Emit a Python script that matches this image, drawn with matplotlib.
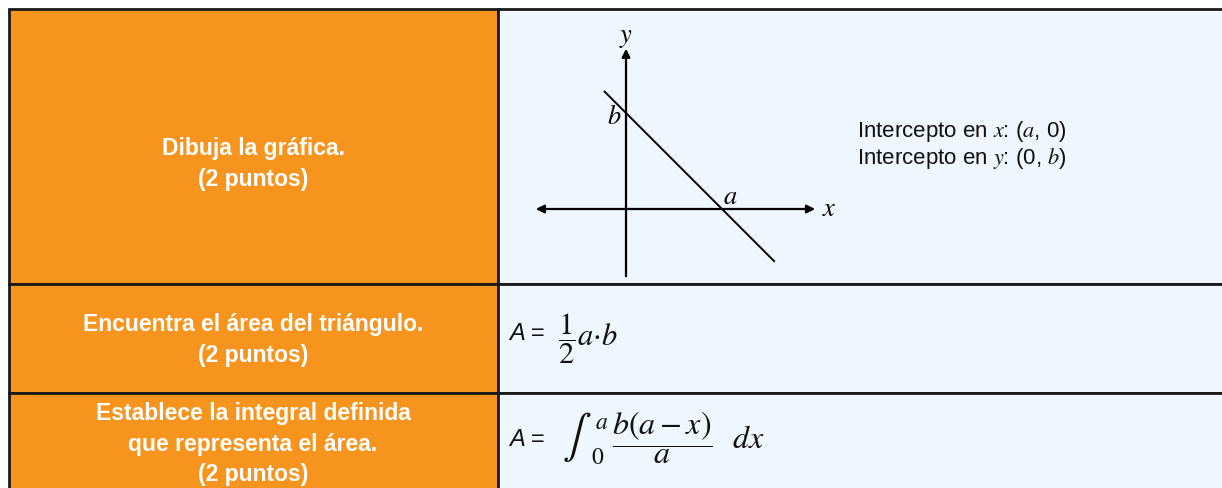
import matplotlib
matplotlib.use("Agg")
import matplotlib.pyplot as plt
from matplotlib.patches import Rectangle
from matplotlib import font_manager

plt.rcParams['mathtext.fontset'] = 'stix'

# ---- data ----
row_labels = ["Dibuja la gráfica.\n(2 puntos)",
              "Encuentra el área del triángulo.\n(2 puntos)",
              "Establece la integral definida\nque representa el área.\n(2 puntos)"]
intercept_lines = ["Intercepto en $x$: ($a$, 0)", "Intercepto en $y$: (0, $b$)"]
area_formula = r"$\dfrac{1}{2}a{\cdot}b$"
integral_sign = r"$\int$"
integral_upper = r"$a$"
integral_lower = r"$0$"
integrand = r"$\dfrac{b(a-x)}{a}$"
differential = r"$dx$"
x_intercept = 1.0   # a
y_intercept = 1.0   # b
line_x = [-0.23, 1.55]
x_axis_range = [-0.94, 1.97]
y_axis_range = [-0.70, 1.67]

ORANGE = '#F7941D'
BLUE = '#EFF6FD'
EDGE = '#1a1a1a'
INK = '#111111'

names = {f.name for f in font_manager.fontManager.ttflist}
NARROW = 'Liberation Sans Narrow' if 'Liberation Sans Narrow' in names else 'Liberation Sans'
narrow_avail = NARROW == 'Liberation Sans Narrow'

W, H = 1222, 488
fig = plt.figure(figsize=(W/100, H/100), dpi=100)
fig.patch.set_facecolor('white')
ax = fig.add_axes([0, 0, 1, 1])
ax.set_xlim(0, W)
ax.set_ylim(H, 0)
ax.axis('off')

col_x = [9, 498, 1240]
row_y = [9, 284, 393, 510]
for i in range(3):
    ax.add_patch(Rectangle((col_x[0], row_y[i]), col_x[1]-col_x[0], row_y[i+1]-row_y[i],
                           facecolor=ORANGE, edgecolor=EDGE, lw=2.0, zorder=1))
    ax.add_patch(Rectangle((col_x[1], row_y[i]), col_x[2]-col_x[1], row_y[i+1]-row_y[i],
                           facecolor=BLUE, edgecolor=EDGE, lw=2.0, zorder=1))

lab_fs = 18 if narrow_avail else 16.5
lab_ls = 1.2 * 18 / lab_fs * 30 / 28
label_centers = [164, 340, 444]
for lab, yc in zip(row_labels, label_centers):
    ax.text(253, yc, lab, ha='center', va='center', color='white', fontsize=lab_fs,
            fontweight='bold', family=NARROW, linespacing=lab_ls, zorder=3)

# intercept text
int_fs = 17 if narrow_avail else 16
ax.text(857, 145, "\n".join(intercept_lines), ha='left', va='center', fontsize=int_fs,
        family=NARROW, linespacing=1.12, color=INK, zorder=3)

# formulas
ax.text(509, 334, "A =", ha='left', va='center', fontsize=17, family=NARROW,
        style='italic', color=INK, zorder=3)
ax.text(558, 339, area_formula, ha='left', va='center', fontsize=22, color=INK, zorder=3)

ax.text(509, 439, "A =", ha='left', va='center', fontsize=17, family=NARROW,
        style='italic', color=INK, zorder=3)
ax.text(577, 437, integral_sign, ha='center', va='center', fontsize=31, color=INK, zorder=3)
ax.text(602, 422, integral_upper, ha='center', va='center', fontsize=17, color=INK, zorder=3)
ax.text(598, 457, integral_lower, ha='center', va='center', fontsize=17, color=INK, zorder=3)
ax.text(612, 438, integrand, ha='left', va='center', fontsize=23, color=INK, zorder=3)
ax.text(732, 439, differential, ha='left', va='center', fontsize=23, color=INK, zorder=3)

# ---- graph inset ----
px_per_unit = 96.0
ox, oy = 626, 209
gx0, gx1, gy0, gy1 = 520, 860, 15, 284
gax = fig.add_axes([gx0/W, (H-gy1)/H, (gx1-gx0)/W, (gy1-gy0)/H])
gax.set_xlim((gx0-ox)/px_per_unit, (gx1-ox)/px_per_unit)
gax.set_ylim((oy-gy1)/px_per_unit, (oy-gy0)/px_per_unit)
gax.axis('off')
gax.patch.set_alpha(0)

ap = dict(color='black', lw=1.6, shrinkA=0, shrinkB=0, mutation_scale=12)
gax.annotate('', xy=(x_axis_range[1], 0), xytext=(x_axis_range[0], 0),
             arrowprops=dict(arrowstyle='<|-|>', **ap))
gax.annotate('', xy=(0, y_axis_range[1]), xytext=(0, y_axis_range[0]),
             arrowprops=dict(arrowstyle='-|>', **ap))
slope = -y_intercept / x_intercept
line_y = [y_intercept + slope*x for x in line_x]
gax.plot(line_x, line_y, color='black', lw=1.4, solid_capstyle='butt')

gax.text(0, 1.79, '$y$', ha='center', va='center', fontsize=19)
gax.text(2.04, 0, '$x$', ha='left', va='center', fontsize=19)
gax.text(-0.05, y_intercept - 0.04, '$b$', ha='right', va='center', fontsize=19)
gax.text(x_intercept + 0.09, 0.13, '$a$', ha='center', va='center', fontsize=19)

fig.savefig('out.png', dpi=100)
